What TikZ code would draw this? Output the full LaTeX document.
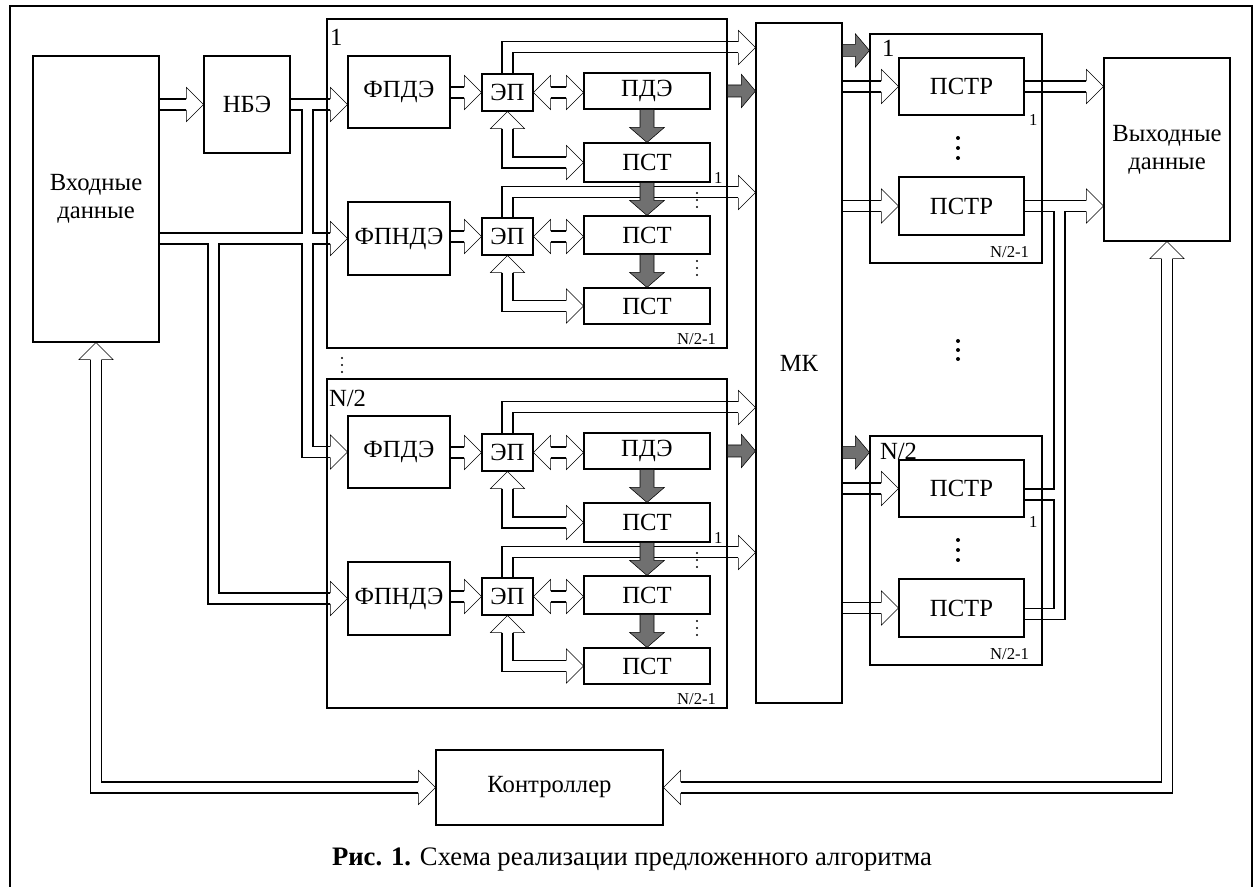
\documentclass[tikz,border=0pt]{standalone}
\usepackage{fontspec}
\setmainfont{Liberation Serif}
\usetikzlibrary{arrows.meta,positioning,calc,backgrounds}
\definecolor{pipegray}{RGB}{112,112,112}

% open head of a hollow bus: tip point, direction
\newcommand{\openhead}[2]{%
  \draw[shift={#1},rotate=#2,line join=miter]
    (-12.75pt,-4.1pt) -- (-12.75pt,-12.75pt) -- (0pt,0pt) -- (-12.75pt,12.75pt) -- (-12.75pt,4.1pt);}
% grey arrow to the right
\newcommand{\grayright}[2]{%
  \draw[grayarrow] let \p1=#1, \p2=#2 in
    (\x1,\y2+4.5pt) -- (\x2-10.5pt,\y2+4.5pt) -- (\x2-10.5pt,\y2+12.4pt) -- (\x2,\y2)
    -- (\x2-10.5pt,\y2-12.4pt) -- (\x2-10.5pt,\y2-4.5pt) -- (\x1,\y2-4.5pt) -- cycle;}
% grey arrow downwards
\newcommand{\graydown}[2]{%
  \draw[grayarrow] let \p1=#1, \p2=#2 in
    (\x2-5.25pt,\y1) -- (\x2-5.25pt,\y2+11.25pt) -- (\x2-13pt,\y2+11.25pt) -- (\x2,\y2)
    -- (\x2+13pt,\y2+11.25pt) -- (\x2+5.25pt,\y2+11.25pt) -- (\x2+5.25pt,\y1) -- cycle;}
% hollow buses, drawn twice (outline, then inside)
\newcommand{\buspaths}[1]{%
  \draw[#1,shorten >=12.75pt] (vhod.east |- nbe.west) -- (nbe.west);
  \draw[#1,shorten >=12.75pt] (nbe.east) -- (fpde1.west |- nbe.east);
  \draw[#1,shorten >=12.75pt] (forka |- nbe.east) |- (fpdeN.west);
  \draw[#1,shorten >=12.75pt] (vhod.east |- fpnde1.west) -- (fpnde1.west);
  \draw[#1,shorten >=12.75pt] (forkb |- fpnde1.west) |- (fpndeN.west);
  \foreach \b in {1,N}{
    \draw[#1,shorten >=12.75pt] (fpde\b.east |- epu\b.west) -- (epu\b.west);
    \draw[#1,shorten <=12.75pt,shorten >=12.75pt] (epu\b.east) -- (pde\b.west |- epu\b.east);
    \draw[#1,shorten <=12.75pt,shorten >=12.75pt] (epu\b.south) |- (psta\b.west);
    \draw[#1,shorten >=12.75pt] (epu\b.north) |- (mkina\b);
    \draw[#1,shorten >=12.75pt] (fpnde\b.east |- epl\b.west) -- (epl\b.west);
    \draw[#1,shorten <=12.75pt,shorten >=12.75pt] (epl\b.east) -- (pstb\b.west |- epl\b.east);
    \draw[#1,shorten <=12.75pt,shorten >=12.75pt] (epl\b.south) |- (pstc\b.west);
    \draw[#1,shorten >=12.75pt] (epl\b.north) |- (mkinb\b);
  }
  \foreach \g in {1,N}{
    \draw[#1,shorten >=12.75pt] (mk.east |- pstra\g.west) -- (pstra\g.west);
    \draw[#1,shorten >=12.75pt] (mk.east |- pstrb\g.west) -- (pstrb\g.west);
  }
  \draw[#1,shorten >=12.75pt] (pstra1.east) -- (vyh.west |- pstra1.east);
  \draw[#1,shorten >=12.75pt] (pstrb1.east) -- (vyh.west |- pstrb1.east);
  \draw[#1] (outa) -- (merge |- outa);
  \draw[#1] (outb) -- (merge |- outb) -- (merge |- pstrb1.east);
  \draw[#1,shorten <=12.75pt,shorten >=12.75pt] (vhod.south) |- (ctrl.west);
  \draw[#1,shorten <=12.75pt,shorten >=12.75pt] (vyh.south) |- (ctrl.east);
}

\begin{document}
\begin{tikzpicture}[
  x=0.75pt, y=-0.75pt,
  line width=0.8pt,
  font=\fontsize{18.5}{21}\selectfont,
  box/.style 2 args={draw, inner sep=0pt, align=center,
    minimum width=#1*0.75pt, minimum height=#2*0.75pt},
  tag/.style={inner sep=0pt},
  smalltag/.style={inner sep=0pt, font=\fontsize{12.5}{14}\selectfont},
  busout/.style={line width=9.05pt, line join=miter},
  busin/.style={line width=7.45pt, white, line join=miter},
  grayarrow/.style={draw=black, fill=pipegray, line join=miter}
]
\useasboundingbox (0,0) rectangle (1254,887);
\draw (10,887) -- (10,6) -- (1252,6) -- (1252,887);

\node[box={126}{286}] (vhod) at (96,199) {Входные\\данные};
\node[box={86}{97}] (nbe) at (247,104.5) {НБЭ};
\node[box={86}{680}] (mk) at (799,363) {МК};
\node[box={126}{183}] (vyh) at (1167,149.5) {Выходные\\данные};
\node[box={227}{75}] (ctrl) at (549.5,787.5) {Контроллер};

% two processing blocks
\foreach \b/\dy in {1/0,N/360}{
  \node[box={400}{329}] (blk\b) at (527,183.5+\dy) {};
  \node[box={102}{72}] (fpde\b) at (399,92+\dy) {ФПДЭ};
  \node[box={102}{73}] (fpnde\b) at (399,238.5+\dy) {ФПНДЭ};
  \node[box={51}{37}] (epu\b) at (507.5,92.5+\dy) {ЭП};
  \node[box={51}{37}] (epl\b) at (507.5,236.5+\dy) {ЭП};
  \node[box={126}{36}] (pde\b) at (647,91+\dy) {ПДЭ};
  \node[box={126}{39}] (psta\b) at (647,162.5+\dy) {ПСТ};
  \node[box={126}{38}] (pstb\b) at (647,235+\dy) {ПСТ};
  \node[box={126}{36}] (pstc\b) at (647,306+\dy) {ПСТ};
  \node[smalltag,anchor=base east] (blkn\b) at ($(blk\b.south east)+(-11,-4)$) {N/2-1};
  \node[smalltag,anchor=base west] (pstn\b) at ($(psta\b.south east)+(3,1)$) {1};
  \foreach \d in {-1,0,1}{
    \fill (697,200+7*\d+\dy) circle (0.85pt);
    \fill (697,268+7*\d+\dy) circle (0.85pt);
  }
  \coordinate (mkina\b) at ($(mk.west |- epu\b.north)+(0,-26)$);
  \coordinate (mkinb\b) at ($(mk.west |- epl\b.north)+(0,-25)$);
}
\node[tag,anchor=north west] (lab1) at ($(blk1.north west)+(3,10)$) {1};
\node[tag,anchor=north west] (labN) at ($(blkN.north west)+(2,11)$) {N/2};
\foreach \d in {-1,0,1} \fill (342,365+7*\d) circle (0.85pt);

% two output groups
\foreach \g/\dy in {1/0,N/402}{
  \node[box={172}{229}] (grp\g) at (956,148.5+\dy) {};
  \node[box={125}{57}] (pstra\g) at (961.5,86.5+\dy) {ПСТР};
  \node[box={125}{58}] (pstrb\g) at (961.5,206+\dy) {ПСТР};
  \node[smalltag,anchor=base east] (grpn\g) at ($(grp\g.south east)+(-13,-6)$) {N/2-1};
  \node[smalltag,anchor=base west] (pstrn\g) at ($(pstra\g.south east)+(4,10)$) {1};
  \foreach \d in {-1,0,1} \fill (958,148+10*\d+\dy) circle (1.5pt);
  \coordinate (grpin\g) at ($(grp\g.north west)+(0,17)$);
}
\node[tag,anchor=north west] (glab1) at ($(grp1.north west)+(12,6)$) {1};
\node[tag,anchor=north west] (glabN) at ($(grpN.north west)+(10,7)$) {N/2};
\foreach \d in {-1,0,1} \fill (958,350+9*\d) circle (1.5pt);

\coordinate (forka) at (307.5,0);
\coordinate (forkb) at (213.5,0);
\coordinate (merge) at (1059.5,0);
\coordinate (outa) at ($(pstraN.east)+(0,6)$);
\coordinate (outb) at ($(pstrbN.east)+(0,6)$);

\begin{pgfonlayer}{background}
  \buspaths{busout}
  \buspaths{busin}
\end{pgfonlayer}

% heads of the hollow buses
\openhead{(nbe.west)}{0}
\openhead{(fpde1.west |- nbe.east)}{0}
\openhead{(fpdeN.west)}{0}
\openhead{(fpnde1.west)}{0}
\openhead{(fpndeN.west)}{0}
\foreach \b in {1,N}{
  \openhead{(epu\b.west)}{0}
  \openhead{(epu\b.east)}{180}
  \openhead{(pde\b.west |- epu\b.east)}{0}
  \openhead{(epu\b.south)}{90}
  \openhead{(psta\b.west)}{0}
  \openhead{(mkina\b)}{0}
  \openhead{(epl\b.west)}{0}
  \openhead{(epl\b.east)}{180}
  \openhead{(pstb\b.west |- epl\b.east)}{0}
  \openhead{(epl\b.south)}{90}
  \openhead{(pstc\b.west)}{0}
  \openhead{(mkinb\b)}{0}
  % grey data arrows
  \grayright{(blk\b.east |- pde\b.east)}{(mk.west |- pde\b.east)}
  \graydown{(pde\b.south)}{(psta\b.north)}
  \graydown{(psta\b.south)}{(pstb\b.north)}
  \graydown{(pstb\b.south)}{(pstc\b.north)}
}
\foreach \g in {1,N}{
  \openhead{(pstra\g.west)}{0}
  \openhead{(pstrb\g.west)}{0}
  \grayright{(mk.east |- grpin\g)}{(grpin\g)}
}
\openhead{(vyh.west |- pstra1.east)}{0}
\openhead{(vyh.west |- pstrb1.east)}{0}
\openhead{(vhod.south)}{90}
\openhead{(ctrl.west)}{0}
\openhead{(vyh.south)}{90}
\openhead{(ctrl.east)}{180}

\node[font=\fontsize{20}{22}\selectfont] (caption) at (632,860)
  {\textbf{Рис. 1.} Схема реализации предложенного алгоритма};
\end{tikzpicture}
\end{document}
